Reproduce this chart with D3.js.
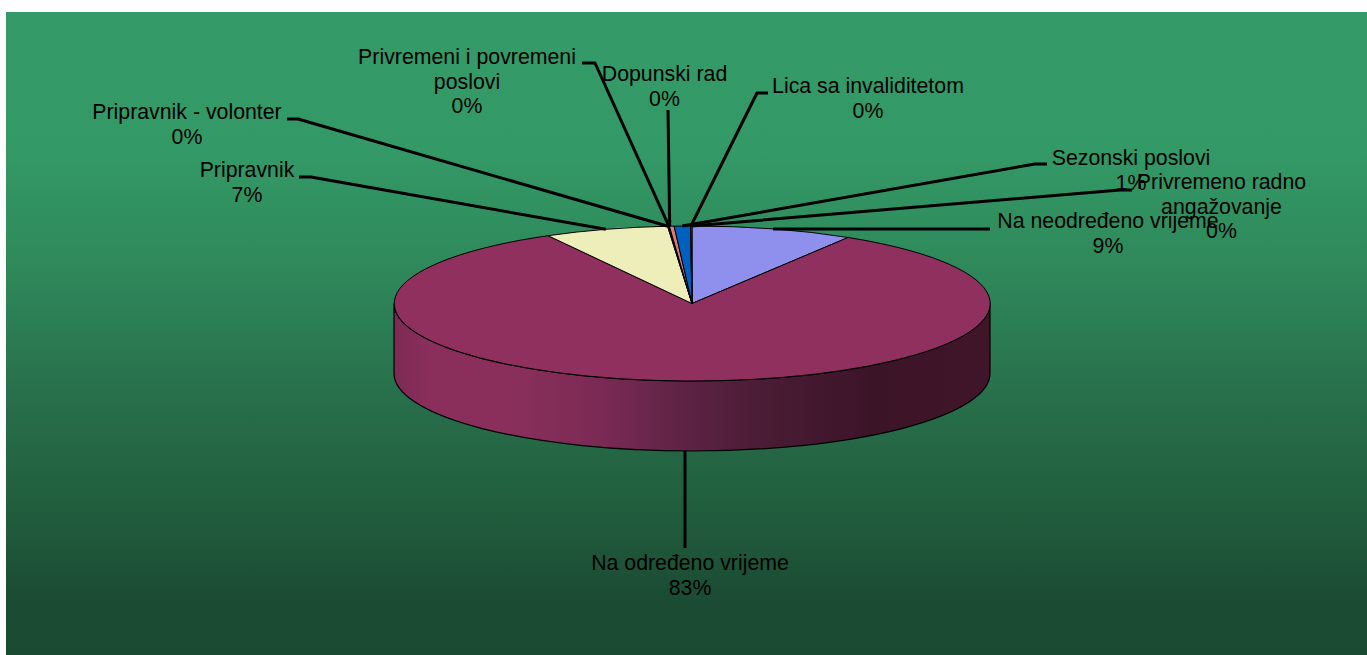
<!DOCTYPE html>
<html>
<head>
<meta charset="utf-8">
<script src="https://cdn.jsdelivr.net/npm/d3@7"></script>
<style>
html,body{margin:0;padding:0;background:#fff;overflow:hidden}
svg{display:block}
text{font-family:"Liberation Sans",Arial,sans-serif;font-size:21.3px;fill:#000}
</style>
</head>
<body>
<svg id="c" width="1367" height="655"></svg>
<script>
// --- data, in pie order (clockwise from 12 o'clock) ---
const categories = ["Na neodređeno vrijeme","Na određeno vrijeme","Pripravnik","Pripravnik - volonter","Privremeni i povremeni poslovi","Dopunski rad","Sezonski poslovi","Lica sa invaliditetom","Privremeno radno angažovanje"];
const values = [8.78,83.19,6.72,0.05,0.05,0.25,0.88,0.04,0.04];
const colors = ["#8f8fee","#8f305f","#eeeebb","#bfeeee","#5f005f","#e87878","#0060c0","#bfbfee","#bfeeee"];
// wrapped label lines
const labelLines = [["Na neodređeno vrijeme"],["Na određeno vrijeme"],["Pripravnik"],["Pripravnik - volonter"],["Privremeni i povremeni","poslovi"],["Dopunski rad"],["Sezonski poslovi"],["Lica sa invaliditetom"],["Privremeno radno","angažovanje"]];
// --- layout (not data) ---
const labelX = [1108,690,247,187,467,664.5,1131,868,1221.5];
const labelY = [228,570,177,119,64,81,165,93,189];
const elbowX = [[990],[685],[311,299],[298,287],[595,582],[668],[1035,1047],[757,768],[1120,1132]];
const elbowY = [[229],[548],[177,177],[119,119],[63,63],[110],[164,164],[93,93],[190,190]];
const startDx = [0,0,0,0,0,-2,0,0,0];

const W=1367,H=655,cx=692,cy=303.5,rx=298,ry=77.5,depth=70;
const svg=d3.select("#c");
const defs=svg.append("defs");
const bg=defs.append("linearGradient").attr("id","bg").attr("x1",0).attr("y1",0).attr("x2",0).attr("y2",1);
[[0,"#349a68"],[0.22,"#339966"],[0.42,"#2e8659"],[0.6,"#286f4b"],[0.75,"#22603f"],[0.92,"#1b4b33"],[1,"#1a4a32"]]
  .forEach(s=>bg.append("stop").attr("offset",s[0]).attr("stop-color",s[1]));
const sideG=defs.append("linearGradient").attr("id","side").attr("x1",0).attr("y1",0).attr("x2",1).attr("y2",0);
[[0,"#7c2a54"],[0.06,"#8a2f5c"],[0.2,"#8a2f5c"],[0.35,"#7a2a54"],[0.48,"#5f2346"],[0.62,"#4a1c35"],[0.8,"#3c1428"],[1,"#401528"]]
  .forEach(s=>sideG.append("stop").attr("offset",s[0]).attr("stop-color",s[1]));

svg.append("rect").attr("x",6).attr("y",12).attr("width",W-6).attr("height",H-12).attr("fill","url(#bg)");

const pie=d3.pie().sort(null).value(d=>d)(values);
const sx=d3.scaleLinear().domain([-1,1]).range([cx-rx,cx+rx]);
const sy=d3.scaleLinear().domain([-1,1]).range([cy-ry,cy+ry]);

// side wall
const L=sx(-1),R=sx(1);
svg.append("path")
  .attr("d",`M${L},${cy}A${rx},${ry} 0 0 0 ${R},${cy}L${R},${cy+depth}A${rx},${ry} 0 0 1 ${L},${cy+depth}Z`)
  .attr("fill","url(#side)").attr("stroke","#000").attr("stroke-width",1.2);

// top face
const arc=d3.arc().innerRadius(0).outerRadius(1);
svg.append("g").attr("transform",`translate(${cx},${cy}) scale(${rx},${ry})`)
  .selectAll("path").data(pie).join("path")
  .attr("d",arc)
  .attr("fill",(d,i)=>colors[i])
  .attr("stroke","#000").attr("stroke-width",1)
  .attr("vector-effect","non-scaling-stroke");

// leader lines
const line=d3.line();
svg.append("g").selectAll("path").data(pie).join("path")
  .attr("fill","none").attr("stroke","#000").attr("stroke-width",3).attr("stroke-linejoin","round")
  .attr("d",(d,i)=>{
    const a=(d.startAngle+d.endAngle)/2;
    const c=Math.cos(a);
    const start=[sx(Math.sin(a))+startDx[i],sy(-c)+(c<0?depth:0)];
    return line([start,...elbowX[i].map((x,k)=>[x,elbowY[i][k]])]);
  });

// labels
const pct=d3.format(".0f");
const total=d3.sum(values);
const g=svg.append("g");
categories.forEach((name,i)=>{
  const lines=[...labelLines[i],pct(values[i]/total*100)+"%"];
  const t=g.append("text").attr("text-anchor","middle");
  lines.forEach((s,k)=>t.append("tspan").attr("x",labelX[i]).attr("y",labelY[i]+k*24.5).text(s));
});
</script>
</body>
</html>
